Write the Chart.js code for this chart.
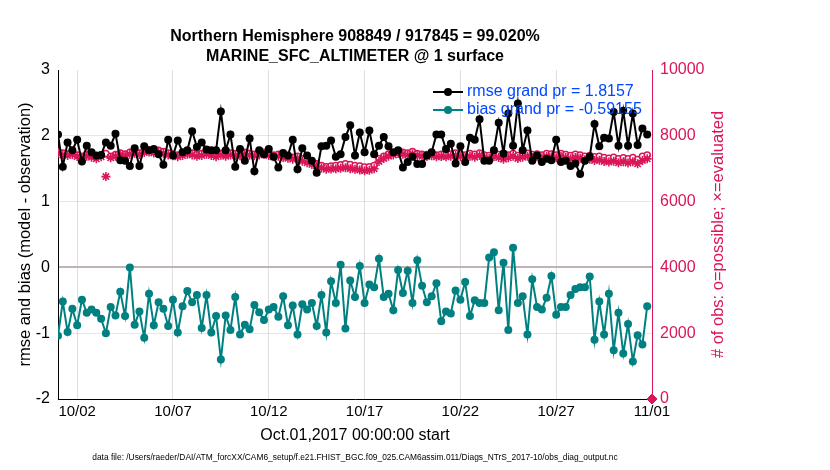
<!DOCTYPE html>
<html lang="en">
<head>
    <meta charset="UTF-8">
    <title>MARINE_SFC_ALTIMETER obs_diag</title>
    <script src="https://cdn.jsdelivr.net/npm/chart.js"></script>
    <style>
        body { margin: 0; background: #fff; }
    </style>
</head>
<body>
    <canvas id="diagChart" width="830" height="470"></canvas>

    <script>
        // 6-hourly bins starting Oct.01,2017 00:00 (x in days since start)
        const binStepDays = 0.25;
        const tickDays = [1, 6, 11, 16, 21, 26, 31];
        const tickLabels = ['10/02', '10/07', '10/12', '10/17', '10/22', '10/27', '11/01'];

        const rmse = [
            2.02, 1.53, 1.90, 1.78, 1.94, 1.61, 1.85, 1.75, 1.70, 1.71, 1.90, 1.85, 2.03, 1.63, 1.62, 1.54, 1.81, 1.54, 1.84, 1.78, 1.80,
            1.72, 1.56, 1.94, 1.70, 1.93, 1.75, 1.78, 2.07, 1.83, 1.90, 1.79, 1.78, 1.78, 2.37, 1.78, 2.02, 1.53, 1.80, 1.62, 1.96, 1.46,
            1.78, 1.72, 1.80, 1.68, 1.52, 1.74, 1.70, 1.94, 1.49, 1.81, 1.70, 1.62, 1.44, 1.84, 1.85, 1.93, 1.68, 1.72, 1.98, 2.16,
            1.70, 2.05, 1.75, 2.08, 1.72, 1.85, 1.98, 1.84, 1.75, 1.78, 1.52, 1.60, 1.68, 1.57, 1.57, 1.70, 1.75, 2.02, 2.02, 1.80, 1.88,
            1.58, 1.84, 1.60, 1.97, 1.94, 2.25, 1.62, 1.62, 1.78, 2.20, 1.73, 2.34, 1.85, 2.49, 1.78, 2.08, 1.62, 1.70, 1.60, 1.65,
            1.63, 1.94, 1.60, 1.62, 1.54, 1.58, 1.42, 1.62, 1.68, 2.18, 1.84, 1.97, 1.96, 2.36, 1.85, 2.38, 1.85, 2.34, 1.86, 2.11, 2.02
        ];
        const bias = [
            -1.04, -0.52, -0.98, -0.63, -0.88, -0.49, -0.69, -0.64, -0.69, -0.78, -1.00, -0.60, -0.73, -0.37, -0.74, 0.00, -0.87, -0.67, -1.07, -0.40, -0.88,
            -0.53, -0.63, -0.89, -0.49, -0.99, -0.59, -0.36, -0.53, -0.42, -0.92, -0.42, -0.99, -0.74, -1.40, -0.73, -0.95, -0.45, -1.02, -0.87, -0.94, -0.57,
            -0.68, -0.80, -0.64, -0.60, -0.75, -0.44, -0.88, -0.58, -1.02, -0.56, -0.64, -0.54, -0.89, -0.42, -0.99, -0.21, -0.54, 0.04, -0.93, -0.20,
            -0.45, 0.02, -0.54, -0.26, -0.30, 0.13, -0.45, -0.40, -0.65, -0.04, -0.39, -0.05, -0.54, 0.11, -0.28, -0.53, -0.44, -0.24, -0.82, -0.67, -0.70,
            -0.35, -0.49, -0.22, -0.74, -0.50, -0.54, -0.54, 0.15, 0.23, -0.65, 0.07, -0.95, 0.30, -0.54, -0.44, -1.02, -0.18, -0.60, -0.64, -0.46,
            -0.13, -0.72, -0.60, -0.60, -0.42, -0.33, -0.30, -0.30, -0.14, -1.10, -0.52, -1.02, -0.40, -1.26, -0.69, -1.31, -0.86, -1.43, -1.03, -1.17, -0.59
        ];
        const obsPossible = [
            7520, 7480, 7450, 7500, 7420, 7380, 7450, 7400, 7350, 7420, 7460, 7380, 7430, 7480, 7450, 7500, 7520, 7480, 7550, 7570, 7540,
            7560, 7520, 7480, 7440, 7420, 7460, 7500, 7480, 7430, 7460, 7500, 7450, 7420, 7470, 7430, 7480, 7460, 7440, 7500, 7470, 7440,
            7480, 7500, 7460, 7420, 7440, 7400, 7380, 7350, 7380, 7300, 7250, 7200, 7150, 7100, 7060, 7080, 7100, 7120, 7150, 7130,
            7100, 7080, 7050, 7060, 7100, 7300, 7380, 7450, 7480, 7520, 7500, 7480, 7520, 7460, 7440, 7430, 7450, 7420, 7440, 7430, 7450,
            7480, 7450, 7420, 7460, 7440, 7480, 7420, 7400, 7450, 7430, 7380, 7420, 7460, 7400, 7440, 7470, 7430, 7450, 7420, 7460,
            7450, 7420, 7460, 7430, 7400, 7440, 7420, 7380, 7400, 7360, 7380, 7340, 7320, 7350, 7300, 7330, 7300, 7340, 7280, 7380, 7420
        ];
        const obsEvaluated = [
            7460, 7420, 7400, 7430, 7370, 7330, 7380, 7350, 7300, 7360, 6760, 7330, 7380, 7420, 7400, 7440, 7470, 7430, 7490, 7510, 7480,
            7500, 7470, 7420, 7390, 7360, 7400, 7440, 7420, 7380, 7400, 7440, 7400, 7360, 7410, 7380, 7420, 7400, 7390, 7440, 7410, 7390,
            7420, 7440, 7400, 7360, 7380, 7340, 7320, 7290, 7310, 7230, 7180, 7130, 7080, 7020, 6980, 6990, 7000, 7010, 7030, 7000,
            6980, 6960, 6940, 6950, 7000, 7220, 7310, 7380, 7420, 7460, 7440, 7420, 7450, 7400, 7380, 7370, 7390, 7360, 7370, 7360, 7380,
            7400, 7360, 7340, 7380, 7350, 7400, 7330, 7310, 7360, 7340, 7290, 7330, 7380, 7310, 7350, 7380, 7340, 7360, 7330, 7370,
            7360, 7330, 7370, 7340, 7300, 7340, 7320, 7270, 7290, 7250, 7260, 7220, 7200, 7230, 7180, 7210, 7170, 7210, 7150, 7250, 7300
        ];
        // empty final bin at 11/01 00:00
        const endBinDay = [31];
        const endBinCount = [0];

        const titleLines = ['Northern Hemisphere 908849 / 917845 = 99.020%', 'MARINE_SFC_ALTIMETER @ 1 surface'];
        const legendTexts = ['rmse grand pr = 1.8157', 'bias grand pr = -0.59155'];
        const xTitle = 'Oct.01,2017 00:00:00 start';
        const leftTitle = 'rmse and bias (model - observation)';
        const rightTitle = '# of obs: o=possible; \u00d7=evaluated';
        const footer = 'data file: /Users/raeder/DAI/ATM_forcXX/CAM6_setup/f.e21.FHIST_BGC.f09_025.CAM6assim.011/Diags_NTrS_2017-10/obs_diag_output.nc';

        const obsColor = 'rgb(217,22,88)';
        const biasColor = '#008080';
        const legendColor = 'rgb(0,72,255)';
        const fontFamily = '"Liberation Sans", Arial, Helvetica, sans-serif';

        const toPoints = (vals) => vals.map((v, i) => ({ x: i * binStepDays, y: v }));

        // titles, axis labels, footer and the in-plot legend
        const textPlugin = {
            id: 'diagText',
            afterDraw(chart) {
                const ctx = chart.ctx;
                const a = chart.chartArea;
                const cx = (a.left + a.right) / 2;
                const cy = (a.top + a.bottom) / 2;
                ctx.save();
                ctx.textAlign = 'center';
                ctx.textBaseline = 'middle';
                ctx.fillStyle = '#000';
                ctx.font = 'bold 16px ' + fontFamily;
                ctx.fillText(titleLines[0], cx, 37);
                ctx.fillText(titleLines[1], cx, 57);

                ctx.font = '16px ' + fontFamily;
                ctx.fillText(xTitle, cx, a.bottom + 37);

                ctx.font = '8.4px ' + fontFamily;
                ctx.fillText(footer, cx, 458);

                ctx.font = '16.5px ' + fontFamily;
                ctx.save();
                ctx.translate(25, cy);
                ctx.rotate(-Math.PI / 2);
                ctx.fillText(leftTitle, 0, 0);
                ctx.restore();

                ctx.save();
                ctx.fillStyle = obsColor;
                ctx.translate(718, cy);
                ctx.rotate(-Math.PI / 2);
                ctx.fillText(rightTitle, 0, 0);
                ctx.restore();

                // legend
                const colors = ['#000', biasColor];
                const rows = [92, 110];
                ctx.font = '16px ' + fontFamily;
                ctx.textAlign = 'left';
                for (let k = 0; k < 2; k++) {
                    ctx.strokeStyle = colors[k];
                    ctx.fillStyle = colors[k];
                    ctx.lineWidth = 2;
                    ctx.beginPath();
                    ctx.moveTo(433, rows[k]);
                    ctx.lineTo(463, rows[k]);
                    ctx.stroke();
                    ctx.beginPath();
                    ctx.arc(448, rows[k], 4, 0, Math.PI * 2);
                    ctx.fill();
                    ctx.fillStyle = legendColor;
                    ctx.fillText(legendTexts[k], 467, rows[k]);
                }
                ctx.restore();
            }
        };

        const ctx = document.getElementById('diagChart').getContext('2d');
        new Chart(ctx, {
            type: 'line',
            data: {
                datasets: [
                    {
                        label: 'rmse',
                        data: toPoints(rmse),
                        yAxisID: 'y',
                        borderColor: '#000',
                        backgroundColor: '#000',
                        borderWidth: 2,
                        pointRadius: 4,
                        pointBorderWidth: 0,
                        tension: 0
                    },
                    {
                        label: 'bias',
                        data: toPoints(bias),
                        yAxisID: 'y',
                        borderColor: biasColor,
                        backgroundColor: biasColor,
                        borderWidth: 2,
                        pointRadius: 4,
                        pointBorderWidth: 0,
                        tension: 0
                    },
                    {
                        label: 'evaluated',
                        data: toPoints(obsEvaluated),
                        yAxisID: 'y2',
                        showLine: false,
                        pointStyle: 'star',
                        pointRadius: 4.5,
                        borderColor: obsColor,
                        backgroundColor: obsColor,
                        pointBorderWidth: 1.6
                    },
                    {
                        label: 'possible',
                        data: toPoints(obsPossible),
                        yAxisID: 'y2',
                        showLine: false,
                        pointStyle: 'circle',
                        pointRadius: 3,
                        borderColor: obsColor,
                        backgroundColor: '#fff',
                        pointBorderWidth: 1.5
                    },
                    {
                        label: 'end bin',
                        data: endBinDay.map((d, i) => ({ x: d, y: endBinCount[i] })),
                        yAxisID: 'y2',
                        showLine: false,
                        pointStyle: 'rectRot',
                        pointRadius: 5,
                        borderColor: obsColor,
                        backgroundColor: obsColor,
                        clip: false
                    }
                ]
            },
            options: {
                responsive: false,
                animation: false,
                layout: { padding: { left: 0, top: 70, right: 98, bottom: 21 } },
                plugins: {
                    legend: { display: false },
                    tooltip: { enabled: false },
                    title: { display: false }
                },
                scales: {
                    x: {
                        type: 'linear',
                        min: 0,
                        max: 31,
                        afterBuildTicks: (s) => { s.ticks = tickDays.map(v => ({ value: v })); },
                        afterFit: (s) => { s.height = 50; },
                        ticks: {
                            autoSkip: false,
                            maxRotation: 0,
                            padding: 4,
                            color: '#000',
                            font: { size: 15, family: fontFamily },
                            callback: (v, i) => tickLabels[i]
                        },
                        grid: { color: 'rgba(0,0,0,0.13)', drawTicks: false },
                        border: { color: '#000', width: 1 }
                    },
                    y: {
                        position: 'left',
                        min: -2,
                        max: 3,
                        afterFit: (s) => { s.width = 58; },
                        ticks: {
                            stepSize: 1,
                            padding: 8,
                            color: '#000',
                            font: { size: 16, family: fontFamily }
                        },
                        grid: {
                            drawTicks: false,
                            color: (c) => {
                                if (!c.tick) return 'rgba(0,0,0,0)';
                                if (c.tick.value === 0) return 'rgb(190,180,184)';
                                if (c.tick.value === 3) return 'rgba(0,0,0,0)';
                                return 'rgba(220,20,80,0.14)';
                            },
                            lineWidth: (c) => c.tick && c.tick.value === 0 ? 2 : 1
                        },
                        border: { color: '#000', width: 1 }
                    },
                    y2: {
                        position: 'right',
                        min: 0,
                        max: 10000,
                        afterFit: (s) => { s.width = 80; },
                        ticks: {
                            stepSize: 2000,
                            padding: 8,
                            color: obsColor,
                            font: { size: 16, family: fontFamily },
                            callback: (v) => String(v)
                        },
                        grid: { display: false, drawTicks: false },
                        border: { color: obsColor, width: 1 }
                    }
                }
            },
            plugins: [textPlugin]
        });
    </script>
</body>
</html>
